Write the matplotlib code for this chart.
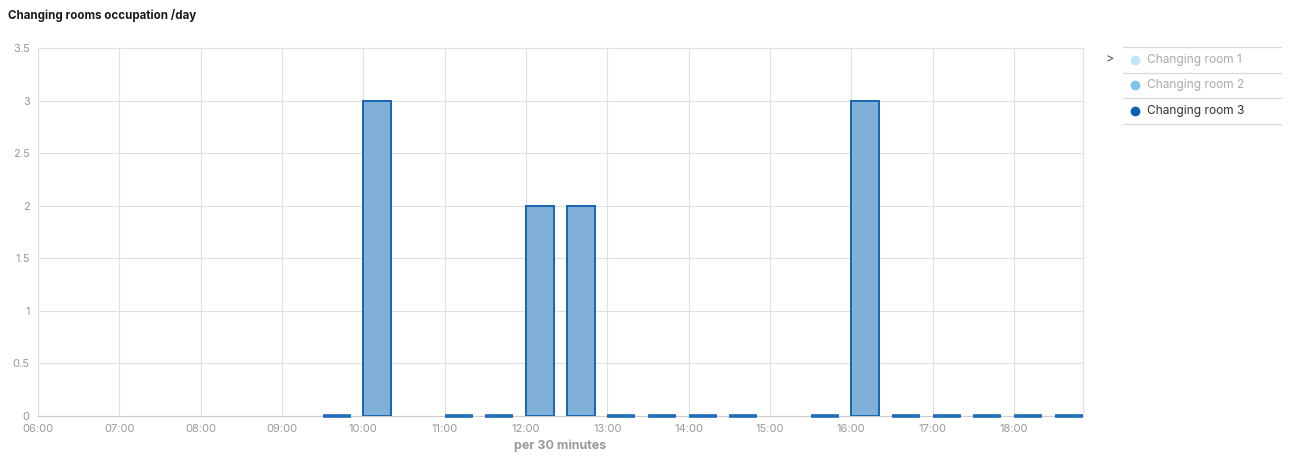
import matplotlib
matplotlib.use("Agg")
import matplotlib.pyplot as plt
from matplotlib.lines import Line2D

plt.rcParams['font.family'] = ['Inter', 'DejaVu Sans']

# 30-minute bins (start time) and occupation of Changing room 3
slots = ["09:30", "10:00", "11:00", "11:30", "12:00", "12:30", "13:00", "13:30",
         "14:00", "14:30", "15:30", "16:00", "16:30", "17:00", "17:30", "18:00", "18:30"]
occupation = [0, 3, 0, 0, 2, 2, 0, 0, 0, 0, 0, 3, 0, 0, 0, 0, 0]

hour_labels = ["06:00", "07:00", "08:00", "09:00", "10:00", "11:00", "12:00",
               "13:00", "14:00", "15:00", "16:00", "17:00", "18:00"]
y_ticks = [0, 0.5, 1, 1.5, 2, 2.5, 3, 3.5]
y_labels = ["0", "0.5", "1", "1.5", "2", "2.5", "3", "3.5"]

legend_names = ["Changing room 1", "Changing room 2", "Changing room 3"]
legend_colors = ["#bde6f8", "#7fc6ec", "#0b5fb0"]
legend_text = ["#aaaaaa", "#aaaaaa", "#333333"]


def to_hours(s):
    h, m = s.split(":")
    return int(h) + int(m) / 60.0


x = [to_hours(s) for s in slots]
hour_pos = [to_hours(s) for s in hour_labels]
bar_w = 0.345

fig = plt.figure(figsize=(13.16, 4.71), dpi=100)
ax = fig.add_axes([38 / 1316, 1 - 416 / 471, (1083 - 38) / 1316, (416 - 48) / 471])

ax.bar(x, occupation, width=bar_w, align='edge', color="#80b0d8",
       edgecolor="#1565b0", linewidth=1.4, zorder=3)
# empty bins still show as a flat blue stroke on the baseline
zx = [xi for xi, v in zip(x, occupation) if v == 0]
ax.hlines([0] * len(zx), zx, [xi + bar_w for xi in zx], color="#1e6cb8",
          linewidth=2.6, zorder=4, clip_on=False)

ax.set_xlim(6, 6 + (1083 - 38) / 81.33)
ax.set_ylim(0, 3.5)
ax.set_xticks(hour_pos)
ax.set_xticklabels(hour_labels)
ax.set_yticks(y_ticks)
ax.set_yticklabels(y_labels)
ax.tick_params(length=0, labelsize=8, colors="#999999", pad=6)
ax.grid(True, color="#e0e0e0", linewidth=0.8, zorder=0)
for sp in ax.spines.values():
    sp.set_color("#e0e0e0")
    sp.set_linewidth(0.8)
ax.spines['bottom'].set_color("#cccccc")

ax.set_xlabel("per 30 minutes", fontsize=9, fontweight='bold', color="#999999", labelpad=4)

fig.text(8 / 1316, 1 - 16 / 471, "Changing rooms occupation /day", fontsize=8.3,
         fontweight='bold', color="#1a1a1a", va='center', ha='left')

# legend drawn by hand on the right
for ysep in [47, 73, 98, 124]:
    fig.add_artist(Line2D([1123 / 1316, 1281 / 1316], [1 - ysep / 471, 1 - ysep / 471],
                          transform=fig.transFigure, color="#d8d8d8", linewidth=0.9))
for i, (name, c, tc) in enumerate(zip(legend_names, legend_colors, legend_text)):
    yy = 1 - (60 + 25.3 * i) / 471
    fig.add_artist(Line2D([1135 / 1316], [yy], transform=fig.transFigure, marker='o',
                          markersize=6, color=c, linestyle='none'))
    fig.text(1147 / 1316, yy, name, fontsize=8.6, color=tc, va='center', ha='left')
fig.text(1110 / 1316, 1 - 59 / 471, ">", fontsize=9, color="#555555", va='center', ha='center')

fig.savefig("out.png", dpi=100)
